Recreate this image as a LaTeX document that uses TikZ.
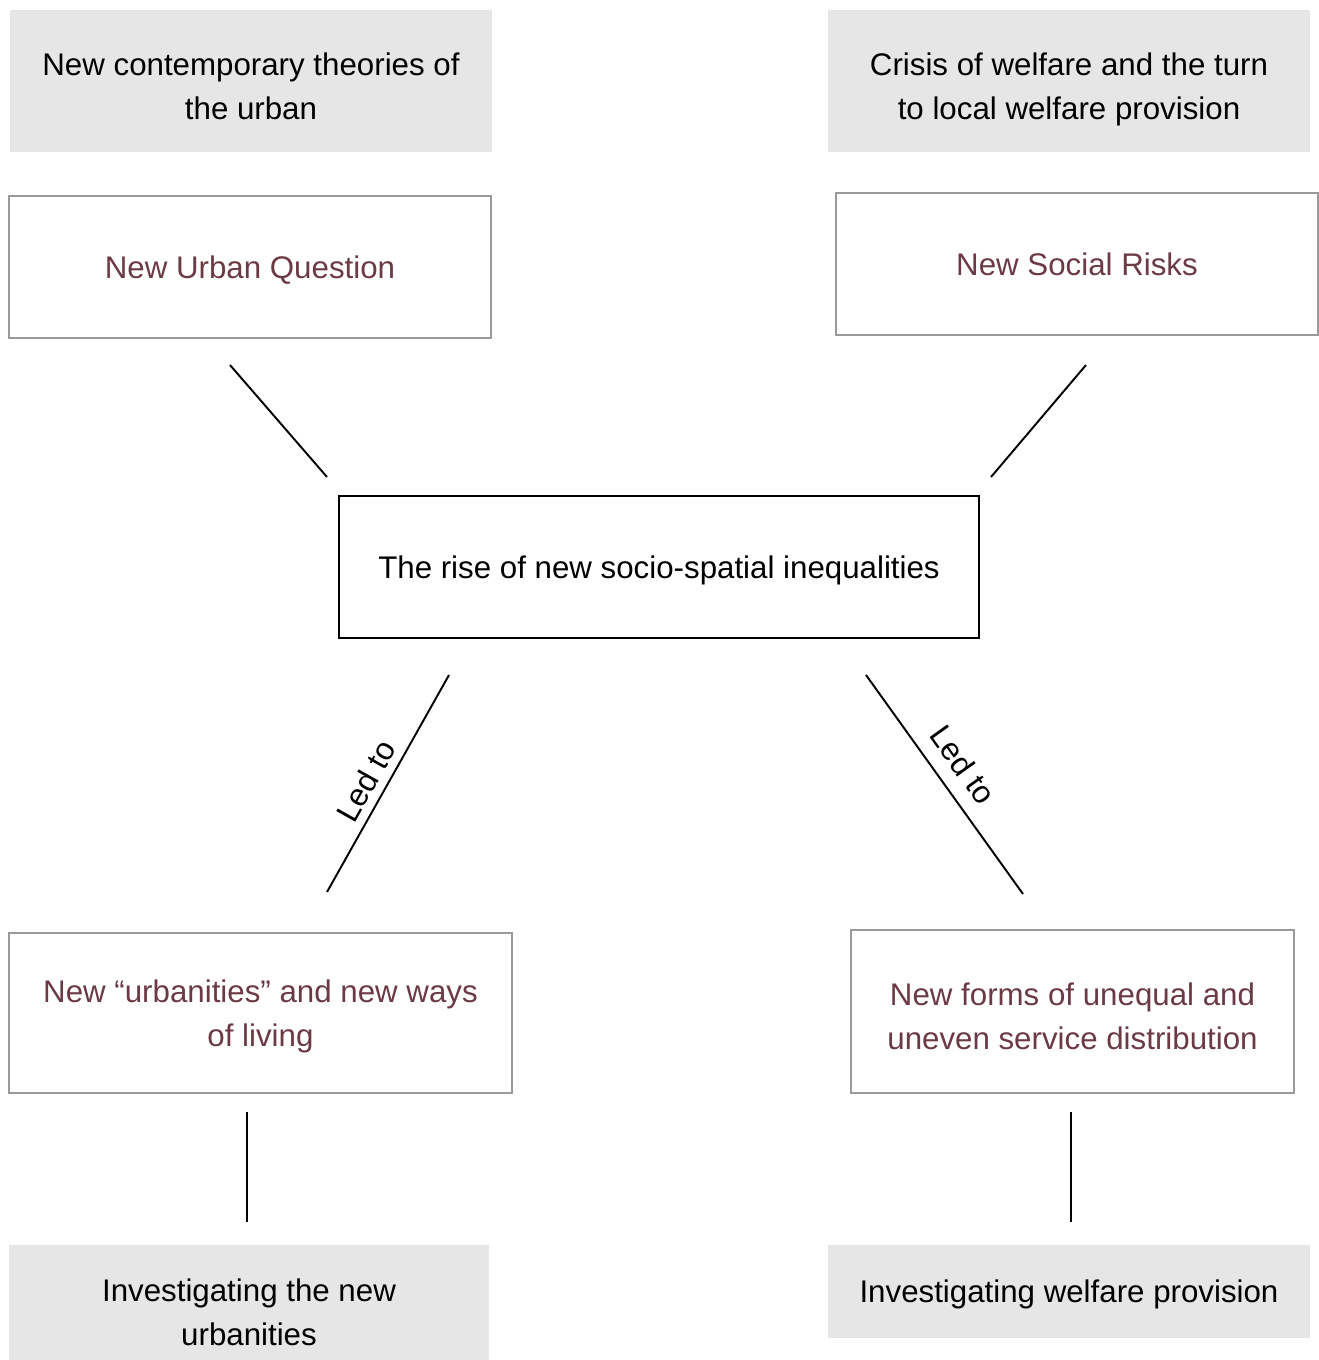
\documentclass[tikz,border=0pt]{standalone}
\usepackage{fontspec}
\setmainfont{Liberation Sans}
\usepackage{tikz}

\definecolor{boxgrey}{HTML}{E6E6E6}
\definecolor{framegrey}{HTML}{9A9A9A}
\definecolor{maroon}{HTML}{6B3A44}

\newcommand{\lowstrut}{\rule{0pt}{18.5pt}}

\tikzset{
  basebox/.style={rectangle,align=center,inner sep=0pt,text depth=0pt,
    font=\fontsize{17.8}{25}\selectfont},
  greybox/.style={basebox,fill=boxgrey,draw=none},
  linkbox/.style={basebox,draw=framegrey,line width=1.2pt,text=maroon},
  corebox/.style={basebox,draw=black,line width=1.5pt},
  ledlabel/.style={sloped,above,font=\fontsize{18}{20}\selectfont,inner sep=4.5pt},
  joinline/.style={line width=1.1pt}
}

\begin{document}
\begin{tikzpicture}[x=0.02cm,y=-0.02cm]
        \useasboundingbox (0,0) rectangle (1319,1360);
        % context boxes
        \node[greybox,minimum width=482*0.02cm,minimum height=142*0.02cm] (theory) at (251,81) {\lowstrut New contemporary theories of\\the urban};
        \node[greybox,minimum width=482*0.02cm,minimum height=142*0.02cm] (crisis) at (1069,81) {\lowstrut Crisis of welfare and the turn\\to local welfare provision};
        \node[linkbox,minimum width=482*0.02cm,minimum height=142*0.02cm] (nuq) at (250,267) {New Urban Question};
        \node[linkbox,minimum width=482*0.02cm,minimum height=142*0.02cm] (nsr) at (1077,264) {New Social Risks};
        \node[corebox,minimum width=640*0.02cm,minimum height=142*0.02cm] (core) at (659,567) {The rise of new socio-spatial inequalities};
        \node[linkbox,minimum width=503*0.02cm,minimum height=160*0.02cm] (urbanities) at (260.5,1013) {New “urbanities” and new ways\\of living};
        \node[linkbox,minimum width=443*0.02cm,minimum height=163*0.02cm] (forms) at (1072.5,1011.5) {\lowstrut New forms of unequal and\\uneven service distribution};
        \node[greybox,minimum width=480*0.02cm,minimum height=135*0.02cm] (invurb) at (249,1312.5) {Investigating the new\\urbanities};
        \node[greybox,minimum width=482*0.02cm,minimum height=93*0.02cm] (invwel) at (1069,1291.5) {Investigating welfare provision};
        % free line ends
        \coordinate (nuqout) at (230,365);
        \coordinate (corein1) at (327,477);
        \coordinate (nsrout) at (1086,365);
        \coordinate (corein2) at (991,477);
        \coordinate (coreout1) at (449,675);
        \coordinate (urbin) at (327,892);
        \coordinate (coreout2) at (866,675);
        \coordinate (formsin) at (1023,894);
        \coordinate (urbout) at (247,1112);
        \coordinate (invurbin) at (247,1222);
        \coordinate (formsout) at (1071,1112);
        \coordinate (invwelin) at (1071,1222);
        \draw[joinline] (nuqout)--(corein1);
        \draw[joinline] (nsrout)--(corein2);
        \draw[joinline] (urbin)--(coreout1) node[ledlabel,pos=0.465]{Led to};
        \draw[joinline] (coreout2)--(formsin) node[ledlabel,pos=0.48,inner sep=8pt]{Led to};
        \draw[joinline] (urbout)--(invurbin);
        \draw[joinline] (formsout)--(invwelin);
      \end{tikzpicture}
\end{document}
